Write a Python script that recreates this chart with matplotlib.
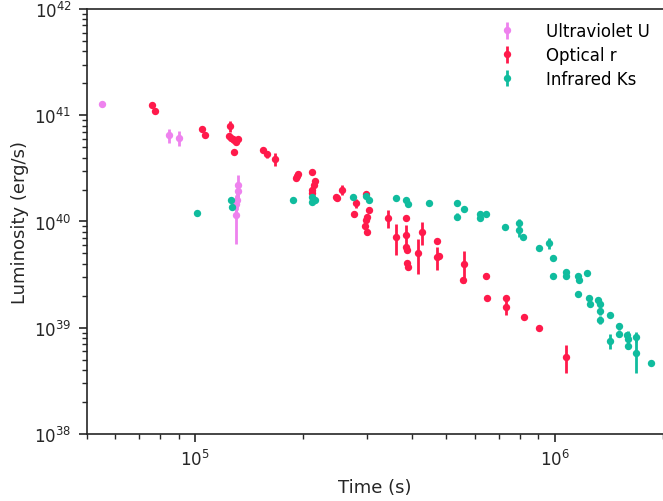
import numpy as np
import matplotlib
matplotlib.use("Agg")
import matplotlib.pyplot as plt

# Ultraviolet U
uv_t = [5.52e4, 8.46e4, 9.02e4, 1.315e5, 1.312e5, 1.304e5, 1.30e5, 1.296e5]
uv_L = [1.28e41, 6.5e40, 6.1e40, 2.21e40, 1.94e40, 1.59e40, 1.46e40, 1.15e40]
uv_e = [6e39, 1.0e40, 9.5e39, 5.3e39, 4e39, 3e39, 3e39, 5.4e39]

# Optical r
r_t = [7.58e4, 7.72e4, 1.048e5, 1.064e5, 1.251e5, 1.243e5, 1.26e5, 1.274e5, 1.282e5,
       1.296e5, 1.315e5, 1.282e5, 1.541e5, 1.588e5, 1.667e5, 1.938e5, 1.925e5, 1.913e5,
       2.118e5, 2.155e5, 2.141e5, 2.110e5, 2.118e5, 2.458e5, 2.479e5, 2.554e5, 2.762e5,
       2.809e5, 2.987e5, 3.038e5, 3.006e5, 2.987e5, 2.975e5, 3.00e5, 3.435e5, 3.620e5,
       3.858e5, 3.858e5, 3.85e5, 3.887e5, 3.88e5, 3.912e5, 4.176e5, 4.284e5, 4.712e5,
       4.712e5, 4.763e5, 5.58e5, 5.57e5, 6.44e5, 6.476e5, 7.322e5, 7.322e5, 8.196e5,
       9.055e5, 1.077e6]
r_L = [1.24e41, 1.10e41, 7.47e40, 6.52e40, 7.87e40, 6.38e40, 6.1e40, 5.97e40, 5.8e40,
       5.6e40, 5.97e40, 4.54e40, 4.68e40, 4.29e40, 3.87e40, 2.82e40, 2.68e40, 2.55e40,
       2.90e40, 2.43e40, 2.22e40, 2.00e40, 1.84e40, 1.71e40, 1.65e40, 2.0e40, 1.18e40,
       1.48e40, 1.82e40, 1.28e40, 1.10e40, 1.03e40, 9.08e39, 7.91e39, 1.08e40, 7.15e39,
       1.08e40, 7.46e39, 5.72e39, 5.43e39, 4.06e39, 3.71e39, 5.0e39, 7.91e39, 6.6e39,
       4.6e39, 4.76e39, 3.95e39, 2.81e39, 3.05e39, 1.89e39, 1.89e39, 1.57e39, 1.25e39,
       9.89e38, 5.34e38]
r_e = [3e39, 3e39, 2e39, 2e39, 8.8e39, 2e39, 2e39, 2e39, 2e39,
       2e39, 2e39, 1e39, 1.5e39, 3e39, 5.7e39, 1.5e39, 1e39, 1e39,
       1e39, 1e39, 1e39, 1e39, 1e39, 5e38, 5e38, 2.2e39, 7e38,
       1.5e39, 5e38, 8e38, 8e38, 5e38, 5e38, 4e38, 2.1e39, 2.3e39,
       3e38, 1.8e39, 2e38, 2e38, 2e38, 2e38, 1.8e39, 1.9e39, 2e38,
       1.1e39, 2e38, 1.3e39, 1e38, 2e38, 5e37, 5e37, 2.5e38, 4e37,
       3e37, 1.6e38]

# Infrared Ks
ir_t = [1.013e5, 1.255e5, 1.263e5, 1.877e5, 2.110e5, 2.155e5, 2.118e5, 2.749e5, 2.987e5,
        3.038e5, 3.620e5, 3.85e5, 3.902e5, 4.479e5, 5.361e5, 5.594e5, 5.361e5, 6.2e5,
        6.194e5, 6.447e5, 7.295e5, 7.935e5, 7.935e5, 8.15e5, 9.03e5, 9.67e5, 9.886e5,
        9.886e5, 1.075e6, 1.077e6, 1.163e6, 1.165e6, 1.231e6, 1.16e6, 1.247e6, 1.25e6,
        1.320e6, 1.34e6, 1.335e6, 1.337e6, 1.422e6, 1.509e6, 1.509e6, 1.422e6, 1.59e6,
        1.595e6, 1.595e6, 1.682e6, 1.685e6, 1.850e6]
ir_L = [1.21e40, 1.61e40, 1.38e40, 1.61e40, 1.69e40, 1.60e40, 1.52e40, 1.69e40, 1.73e40,
        1.60e40, 1.66e40, 1.60e40, 1.45e40, 1.50e40, 1.49e40, 1.30e40, 1.11e40, 1.18e40,
        1.09e40, 1.18e40, 8.94e39, 9.69e39, 8.32e39, 7.10e39, 5.6e39, 6.24e39, 4.53e39,
        3.05e39, 3.37e39, 3.04e39, 3.09e39, 2.83e39, 3.25e39, 2.08e39, 1.89e39, 1.69e39,
        1.84e39, 1.68e39, 1.43e39, 1.19e39, 1.33e39, 1.03e39, 8.73e38, 7.46e38, 8.61e38,
        7.84e38, 6.78e38, 8.24e38, 5.78e38, 4.66e38]
ir_e = [3e38, 3e38, 3e38, 3e38, 3e38, 3e38, 3e38, 3e38, 3e38,
        3e38, 3e38, 3e38, 6e38, 3e38, 3e38, 3e38, 8e38, 2e38,
        5e38, 3e38, 2e38, 8.6e38, 1.16e39, 2e38, 1e38, 7e38, 1e38,
        6e37, 6e37, 6e37, 6e37, 6e37, 6e37, 4e37, 4e37, 4e37,
        4e37, 4e37, 1e38, 1e38, 3e37, 7e37, 2e37, 1.2e38, 2e37,
        1.5e38, 2e37, 9e37, 2e38, 1e37]

plt.rcParams['font.family'] = ['DejaVu Sans']
fig = plt.figure(figsize=(6.63, 5.02), dpi=100)
ax = fig.add_axes([0.131, 0.1335, 0.869, 0.8466])

kw = dict(fmt='o', markersize=5.3, elinewidth=2, capsize=0, markeredgewidth=0)
ax.errorbar(uv_t, uv_L, yerr=uv_e, color='#ee82ee', label='Ultraviolet U', **kw)
ax.errorbar(r_t, r_L, yerr=r_e, color='#ff1a4b', label='Optical r', **kw)
ax.errorbar(ir_t, ir_L, yerr=ir_e, color='#10bc9e', label='Infrared Ks', **kw)

ax.set_xscale('log')
ax.set_yscale('log')
ax.set_xlim(5e4, 2e6)
ax.set_ylim(1e38, 1e42)
ax.set_xlabel('Time (s)', fontsize=13, color='#262626', labelpad=6)
ax.set_ylabel('Luminosity (erg/s)', fontsize=13, color='#262626')
ax.spines['right'].set_visible(False)
for s in ['left', 'bottom', 'top']:
    ax.spines[s].set_color('#262626')
    ax.spines[s].set_linewidth(1.2)
ax.tick_params(which='major', length=6, width=1.2, labelsize=12, colors='#262626', pad=5)
ax.tick_params(which='minor', length=3.5, width=1, colors='#262626')
ax.tick_params(top=False, right=False, which='both')
ax.legend(loc='upper right', frameon=False, fontsize=12, handletextpad=1.3,
          labelspacing=0.35, borderaxespad=0.4)

fig.savefig('out.png', dpi=100)
